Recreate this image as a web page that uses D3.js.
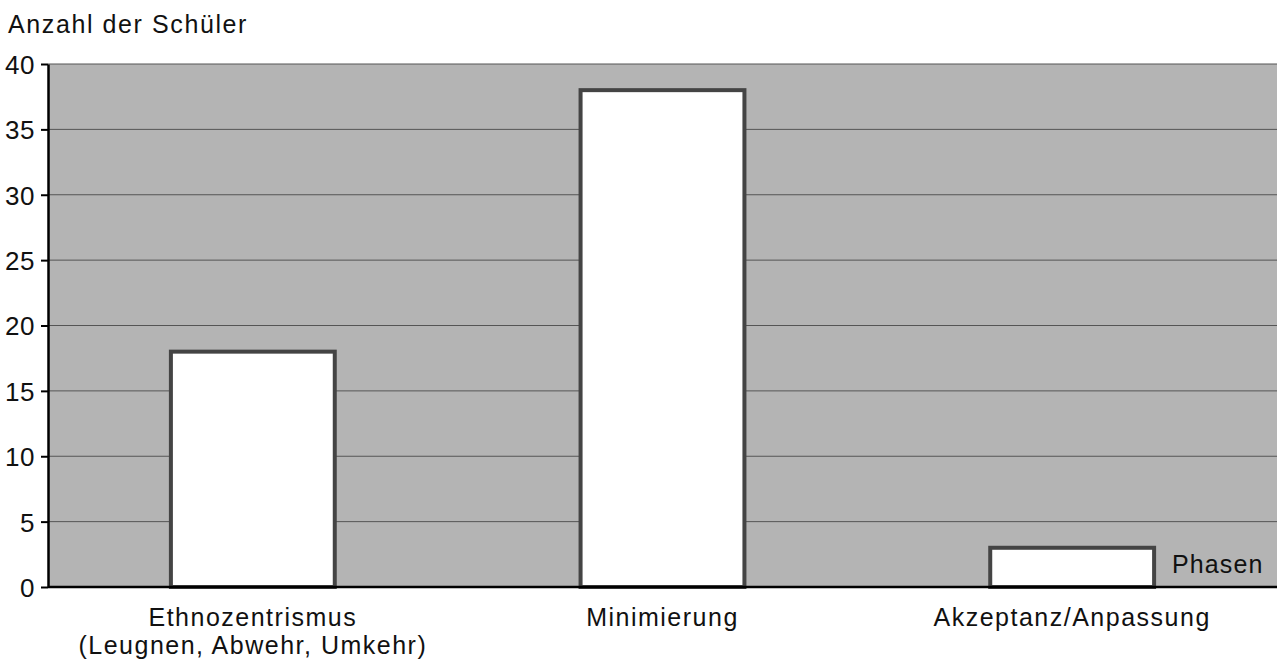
<!DOCTYPE html>
<html>
<head>
<meta charset="utf-8">
<script src="https://cdn.jsdelivr.net/npm/d3@7"></script>
<style>
  body { margin: 0; background: #fff; }
  text { font-family: "Liberation Sans", Arial, sans-serif; fill: #111; }
</style>
</head>
<body>
<div id="chart"></div>
<script>
// Data
const phases = ["Ethnozentrismus\n(Leugnen, Abwehr, Umkehr)", "Minimierung", "Akzeptanz/Anpassung"];
const counts = [18, 38, 3];
const yTicks = [0, 5, 10, 15, 20, 25, 30, 35, 40];

const W = 1277, H = 659;
const margin = {top: 64, right: 0, bottom: 72, left: 48};
const width = W - margin.left - margin.right,
      height = H - margin.top - margin.bottom;

const svg = d3.select("#chart").append("svg")
    .attr("width", W).attr("height", H);

const g = svg.append("g")
    .attr("transform", `translate(${margin.left},${margin.top})`);

const x = d3.scaleBand().domain(phases).range([0, width]).paddingInner(0.6).paddingOuter(0.3);
const y = d3.scaleLinear().domain([0, 40]).range([height, 0]);

// plot background
g.append("rect")
    .attr("width", width).attr("height", height)
    .attr("fill", "#b4b4b4");

// gridlines
g.append("g")
  .selectAll("line")
  .data(yTicks.filter(d => d > 0))
  .enter().append("line")
    .attr("x1", 0).attr("x2", width)
    .attr("y1", d => y(d)).attr("y2", d => y(d))
    .attr("stroke", "#555").attr("stroke-width", 1);

// bars
g.append("g")
  .selectAll("rect")
  .data(counts)
  .enter().append("rect")
    .attr("x", (d, i) => x(phases[i]))
    .attr("y", d => y(d))
    .attr("width", x.bandwidth())
    .attr("height", d => height - y(d))
    .attr("fill", "#fff")
    .attr("stroke", "#444")
    .attr("stroke-width", 4);

// y axis
const yAxis = g.append("g")
    .call(d3.axisLeft(y).tickValues(yTicks).tickSize(7).tickSizeOuter(0));
yAxis.select(".domain").attr("stroke", "#000").attr("stroke-width", 2.5);
yAxis.selectAll(".tick line").attr("stroke", "#000").attr("stroke-width", 2);
yAxis.selectAll(".tick text")
    .attr("x", -13)
    .attr("dy", "0.36em")
    .style("font-size", "26px")
    .style("letter-spacing", "0.6px")
    .attr("fill", "#111");

// x axis line
g.append("line")
    .attr("x1", 0).attr("x2", width)
    .attr("y1", height).attr("y2", height)
    .attr("stroke", "#000").attr("stroke-width", 2.5);

// x labels, one text per line
phases.forEach(p => {
  const cx = x(p) + x.bandwidth() / 2;
  p.split("\n").forEach((line, k) => {
    g.append("text")
      .attr("x", cx)
      .attr("y", height + 39 + k * 28)
      .attr("text-anchor", "middle")
      .style("font-size", "25px")
      .style("letter-spacing", "1.5px")
      .text(line);
  });
});

// titles
svg.append("text")
    .attr("x", 8).attr("y", 33)
    .style("font-size", "25px")
    .style("letter-spacing", "1.6px")
    .text("Anzahl der Schüler");

svg.append("text")
    .attr("x", 1172).attr("y", 573)
    .style("font-size", "25px")
    .style("letter-spacing", "1.1px")
    .text("Phasen");
</script>
</body>
</html>
